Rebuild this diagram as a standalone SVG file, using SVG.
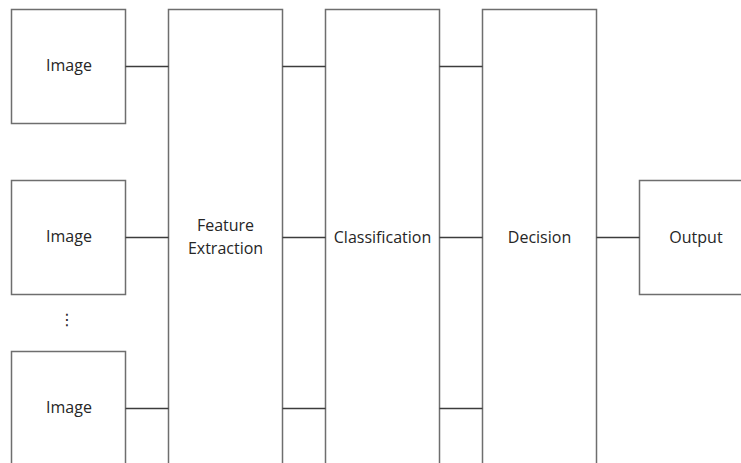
<svg xmlns="http://www.w3.org/2000/svg" width="741" height="463" viewBox="0 0 741 463">
  <style>
    .box { fill: #ffffff; stroke: #6e6e6e; stroke-width: 1.5; }
    .link { stroke: #3c3c3c; stroke-width: 1.4; fill: none; }
    .lbl { font-family: "Open Sans", "DejaVu Sans", sans-serif; font-size: 16px; fill: #262626; text-anchor: middle; }
  </style>
  <rect width="741" height="463" fill="#ffffff"/>

  <!-- inputs -->
  <g id="image-1">
    <rect class="box" x="11.5" y="9.5" width="114" height="114"/>
    <text class="lbl" x="69" y="71">Image</text>
  </g>
  <g id="image-2">
    <rect class="box" x="11.5" y="180.5" width="114" height="114"/>
    <text class="lbl" x="69" y="242">Image</text>
  </g>
  <g id="ellipsis">
    <text class="lbl" x="67" y="325">⋮</text>
  </g>
  <g id="image-3">
    <rect class="box" x="11.5" y="351.5" width="114" height="130"/>
    <text class="lbl" x="69" y="413">Image</text>
  </g>

  <!-- processing stages -->
  <g id="feature-extraction">
    <rect class="box" x="168.5" y="9.5" width="114" height="480"/>
    <text class="lbl" x="225.5" y="231">Feature</text>
    <text class="lbl" x="225.5" y="254">Extraction</text>
  </g>
  <g id="classification">
    <rect class="box" x="325.5" y="9.5" width="114" height="480"/>
    <text class="lbl" x="382.5" y="243">Classification</text>
  </g>
  <g id="decision">
    <rect class="box" x="482.5" y="9.5" width="114" height="480"/>
    <text class="lbl" x="539.5" y="243">Decision</text>
  </g>
  <g id="output">
    <rect class="box" x="639.5" y="180.5" width="114" height="114"/>
    <text class="lbl" x="696" y="243">Output</text>
  </g>

  <!-- connectors -->
  <g id="connectors">
    <line class="link" x1="125.5" y1="66.5" x2="168.5" y2="66.5"/>
    <line class="link" x1="125.5" y1="237.5" x2="168.5" y2="237.5"/>
    <line class="link" x1="125.5" y1="408.5" x2="168.5" y2="408.5"/>
    <line class="link" x1="282.5" y1="66.5" x2="325.5" y2="66.5"/>
    <line class="link" x1="282.5" y1="237.5" x2="325.5" y2="237.5"/>
    <line class="link" x1="282.5" y1="408.5" x2="325.5" y2="408.5"/>
    <line class="link" x1="439.5" y1="66.5" x2="482.5" y2="66.5"/>
    <line class="link" x1="439.5" y1="237.5" x2="482.5" y2="237.5"/>
    <line class="link" x1="439.5" y1="408.5" x2="482.5" y2="408.5"/>
    <line class="link" x1="596.5" y1="237.5" x2="639.5" y2="237.5"/>
  </g>
</svg>
